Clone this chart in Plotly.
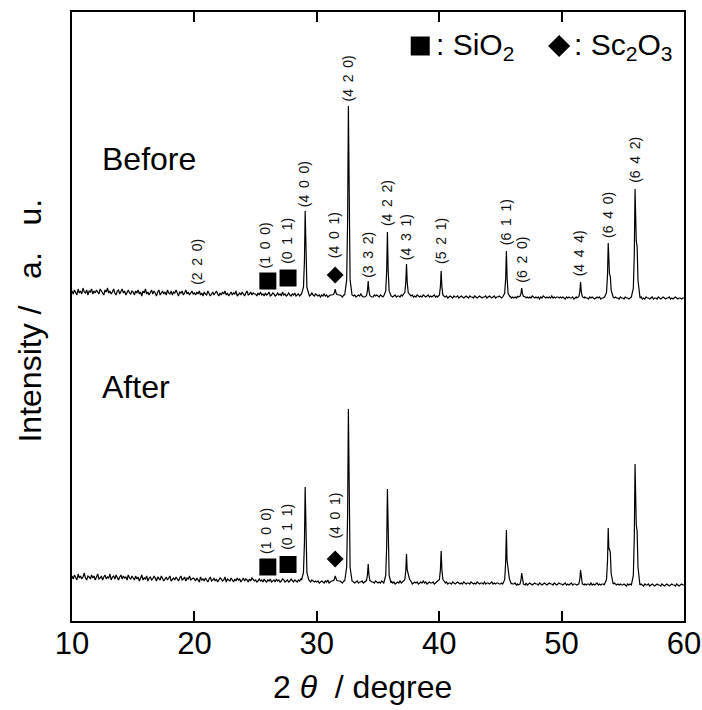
import numpy as np
import plotly.graph_objects as go

# ---------------- data ----------------
two_theta_start = 10.0
two_theta_step = 0.1

before_background = [
    44, 41, 45, 43, 40, 46, 42, 44, 41, 47, 43, 42, 45, 40, 44, 43, 46, 41, 44, 42,
    45, 43, 41, 46, 44, 42, 40, 45, 43, 47, 42, 44, 41, 43, 46, 42, 40, 44, 45, 41,
    43, 46, 42, 44, 40, 43, 45, 42, 41, 44,
    43, 40, 44, 42, 45, 41, 43, 39, 44, 42, 46, 41, 43, 40, 42, 45, 41, 44, 42, 39,
    43, 45, 40, 42, 44, 41, 43, 40, 45, 42, 41, 44, 40, 43, 42, 45, 41, 39, 43, 42,
    44, 40, 42, 45, 41, 43, 40, 42, 44, 41,
    42, 40, 43, 41, 44, 40, 42, 39, 43, 41, 40, 44, 42, 39, 41, 43, 40, 42, 44, 41,
    39, 42, 40, 43, 41, 44, 40, 42, 39, 41, 43, 40, 42, 41, 44, 39, 41, 42, 40, 43,
    41, 39, 42, 44, 40, 41, 43, 40, 42, 41,
    41, 39, 42, 40, 43, 40, 41, 39, 42, 40, 41, 43, 39, 40, 42, 41, 39, 40, 42, 40,
    41, 39, 43, 40, 41, 39, 40, 42, 40, 39, 41, 40, 42, 39, 40, 41, 39, 40, 42, 40,
    41, 39, 40, 41, 39, 40, 42, 40, 39, 41,
    40, 39, 40, 38, 40, 39, 41, 39, 40, 38, 39, 40, 39, 41, 39, 40, 38, 40, 39, 40,
    39, 38, 40, 39, 41, 39, 40, 39, 38, 40, 39, 40, 38, 39, 40, 39, 41, 39, 38, 40,
    39, 40, 38, 39, 40, 39, 38, 40, 39, 40,
    39, 38, 40, 39, 38, 39, 40, 38, 39, 38, 40, 39, 38, 39, 40, 38, 39, 39, 38, 40,
    39, 38, 39, 40, 38, 39, 38, 39, 40, 38, 39, 38, 40, 39, 38, 39, 38, 40, 39, 38,
    39, 40, 38, 39, 38, 39, 40, 38, 39, 38,
    38, 39, 38, 37, 39, 38, 39, 37, 38, 39, 38, 37, 39, 38, 38, 39, 37, 38, 39, 38,
    37, 38, 39, 38, 37, 39, 38, 38, 37, 39, 38, 37, 38, 39, 38, 37, 38, 38, 39, 37,
    38, 39, 38, 37, 38, 39, 37, 38, 38, 39,
    38, 37, 38, 39, 37, 38, 37, 38, 39, 37, 38, 37, 38, 37, 39, 38, 37, 38, 37, 38,
    39, 37, 38, 37, 38, 37, 39, 38, 37, 38, 37, 38, 36, 38, 37, 39, 38, 37, 38, 37,
    38, 37, 39, 37, 38, 37, 38, 38, 37, 38,
    37, 38, 37, 36, 38, 37, 38, 37, 37, 38, 36, 37, 38, 37, 38, 37, 36, 38, 37, 38,
    37, 37, 36, 38, 37, 38, 37, 36, 37, 38, 37, 38, 36, 37, 37, 38, 37, 36, 38, 37,
    37, 38, 36, 37, 38, 37, 37, 36, 38, 37,
    37, 36, 38, 37, 37, 36, 37, 38, 36, 37, 38, 37, 36, 37, 37, 38, 36, 37, 36, 38,
    37, 37, 36, 37, 38, 36, 37, 37, 36, 38, 37, 36, 37, 38, 37, 36, 37, 37, 38, 36,
    37, 36, 37, 38, 37, 36, 37, 37, 36, 37,
    37,
]

after_background = [
    45, 42, 46, 44, 41, 47, 43, 45, 42, 44, 48, 43, 41, 45, 44, 42, 46, 43, 45, 41,
    44, 47, 42, 43, 45, 41, 44, 46, 42, 44, 43, 47, 41, 44, 45, 42, 46, 43, 41, 44,
    46, 42, 45, 43, 44, 41, 46, 43, 42, 45,
    43, 41, 45, 42, 44, 40, 43, 46, 41, 43, 42, 45, 40, 43, 44, 41, 42, 45, 43, 40,
    44, 42, 41, 45, 43, 40, 42, 44, 41, 43, 45, 40, 42, 43, 41, 44, 42, 40, 43, 45,
    41, 42, 44, 40, 43, 42, 45, 41, 42, 43,
    42, 40, 43, 41, 39, 44, 41, 42, 40, 43, 41, 39, 42, 44, 40, 41, 43, 40, 42, 39,
    41, 43, 42, 40, 41, 44, 39, 42, 41, 40, 43, 41, 39, 42, 40, 43, 41, 42, 39, 41,
    43, 40, 42, 41, 39, 42, 40, 43, 41, 40,
    41, 39, 40, 42, 40, 41, 39, 42, 40, 39, 41, 40, 42, 39, 40, 41, 39, 42, 40, 41,
    39, 40, 42, 41, 39, 40, 41, 39, 40, 42, 40, 39, 41, 40, 39, 41, 40, 42, 39, 40,
    41, 39, 40, 41, 40, 39, 41, 40, 39, 40,
    39, 40, 38, 39, 40, 39, 38, 40, 39, 41, 38, 39, 40, 39, 38, 40, 39, 39, 38, 40,
    39, 38, 40, 39, 38, 39, 40, 38, 39, 40, 39, 38, 39, 40, 38, 39, 39, 40, 38, 39,
    40, 38, 39, 39, 40, 38, 39, 38, 40, 39,
    38, 39, 38, 40, 38, 39, 37, 39, 38, 39, 38, 40, 38, 39, 37, 38, 39, 38, 40, 38,
    39, 38, 37, 39, 38, 39, 38, 39, 37, 38, 39, 38, 39, 37, 38, 39, 38, 40, 38, 39,
    37, 38, 39, 38, 38, 39, 37, 38, 39, 38,
    38, 37, 39, 38, 37, 38, 39, 37, 38, 38, 37, 39, 38, 37, 38, 39, 38, 37, 38, 37,
    39, 38, 37, 38, 38, 37, 39, 38, 37, 38, 37, 39, 38, 37, 38, 38, 37, 39, 37, 38,
    38, 37, 38, 39, 37, 38, 37, 38, 38, 37,
    37, 38, 37, 36, 38, 37, 38, 37, 36, 38, 37, 37, 38, 36, 37, 38, 37, 36, 38, 37,
    37, 38, 36, 37, 38, 37, 36, 37, 38, 37, 37, 36, 38, 37, 36, 37, 38, 37, 36, 37,
    38, 37, 37, 36, 38, 37, 36, 37, 38, 37,
    37, 36, 37, 38, 36, 37, 36, 37, 38, 36, 37, 37, 36, 38, 37, 36, 37, 36, 38, 37,
    36, 37, 37, 36, 38, 36, 37, 36, 37, 38, 36, 37, 36, 37, 37, 36, 38, 36, 37, 36,
    37, 37, 36, 38, 37, 36, 37, 36, 37, 36,
    36, 37, 36, 35, 37, 36, 37, 36, 35, 37, 36, 36, 37, 35, 36, 37, 36, 35, 37, 36,
    36, 37, 35, 36, 37, 36, 35, 36, 37, 36, 36, 35, 37, 36, 35, 36, 37, 36, 35, 36,
    37, 36, 36, 35, 37, 36, 35, 36, 37, 36,
    36,
]

# peaks: (400) (401) (420) (332) (422) (431) (521) (611) (620) (444) (640) (642)
peak_positions = [29.05, 31.5, 32.58, 34.2, 35.77, 37.33, 40.16, 45.49, 46.74, 51.55, 53.81, 56.0]
before_heights = [83, 6, 189, 16, 64, 31, 26, 46, 9, 16, 54, 108]
before_shoulders = [0, 0, 0, 0, 0, 0, 0, 0, 0, 0, 23, 56]
after_heights = [93, 5, 172, 18, 94, 28, 31, 54, 12, 15, 56, 121]
after_shoulders = [0, 0, 0, 0, 0, 10, 0, 18, 0, 0, 35, 60]

before_offset = 286

before_label_text = ["(2 2 0)", "(1 0 0)", "(0 1 1)", "(4 0 0)", "(4 0 1)", "(4 2 0)", "(3 3 2)",
                     "(4 2 2)", "(4 3 1)", "(5 2 1)", "(6 1 1)", "(6 2 0)", "(4 4 4)", "(6 4 0)", "(6 4 2)"]
before_label_x = [20.2, 25.8, 27.55, 28.97, 31.42, 32.58, 34.17, 35.74, 37.3, 40.14, 45.47, 46.74, 51.45, 53.79, 55.98]
before_label_y = [359, 376, 380, 437, 386, 543, 366, 418, 384, 380, 399, 361, 368, 406, 461]

after_label_text = ["(1 0 0)", "(0 1 1)", "(4 0 1)"]
after_label_x = [25.85, 27.55, 31.45]
after_label_y = [90, 94, 105]

sio2_before_x = [26.0, 27.65]
sio2_before_y = [340, 343]
sc2o3_before_x = [31.5]
sc2o3_before_y = [346]
sio2_after_x = [26.0, 27.65]
sio2_after_y = [54, 56.5]
sc2o3_after_x = [31.5]
sc2o3_after_y = [62]

legend_names = ["SiO<sub>2</sub>", "Sc<sub>2</sub>O<sub>3</sub>"]
legend_symbol_x = [38.45, 49.8]
legend_text_x = [39.55, 50.85]
legend_y = 575

# ---------------- build traces ----------------
LEFT = [(-0.3, 0.0), (-0.14, 0.08), (-0.06, 0.4), (0.0, 1.0)]
RIGHT = [(0.06, 0.4), (0.14, 0.08), (0.3, 0.0)]


def build_pattern(background, heights, shoulders):
    grid = two_theta_start + two_theta_step * np.arange(len(background))
    bg = np.array(background, dtype=float)
    keep = np.ones(len(grid), dtype=bool)
    px, py = [], []
    for p, h, s in zip(peak_positions, heights, shoulders):
        idx = int(round((p - two_theta_start) / two_theta_step))
        base = bg[idx]
        if s > 0:
            right = [(0.05, max(0.45 * h, s) / h), (0.1, s / h), (0.17, 0.9 * s / h),
                     (0.24, 0.3 * s / h), (0.4, 0.0)]
        else:
            right = RIGHT
        pts = LEFT + right
        lo, hi = p + pts[0][0], p + pts[-1][0]
        keep &= ~((grid >= lo) & (grid <= hi))
        for dx, f in pts:
            px.append(p + dx)
            py.append(base + f * h)
    xs = np.concatenate([grid[keep], np.array(px)])
    ys = np.concatenate([bg[keep], np.array(py)])
    order = np.argsort(xs, kind="stable")
    return xs[order], ys[order]


bx, by = build_pattern(before_background, before_heights, before_shoulders)
ax, ay = build_pattern(after_background, after_heights, after_shoulders)

FONT = "Arial, Liberation Sans, sans-serif"
fig = go.Figure()
fig.add_trace(go.Scatter(x=bx, y=by + before_offset, mode="lines",
                         line=dict(color="black", width=1.2), showlegend=False, hoverinfo="skip"))
fig.add_trace(go.Scatter(x=ax, y=ay, mode="lines",
                         line=dict(color="black", width=1.2), showlegend=False, hoverinfo="skip"))

fig.add_trace(go.Scatter(x=sio2_before_x + sio2_after_x, y=sio2_before_y + sio2_after_y, mode="markers",
                         marker=dict(symbol="square", size=17, color="black"), showlegend=False))
fig.add_trace(go.Scatter(x=sc2o3_before_x + sc2o3_after_x, y=sc2o3_before_y + sc2o3_after_y, mode="markers",
                         marker=dict(symbol="diamond", size=13, color="black"), showlegend=False))
# legend symbols
fig.add_trace(go.Scatter(x=[legend_symbol_x[0]], y=[legend_y], mode="markers",
                         marker=dict(symbol="square", size=19, color="black"), showlegend=False))
fig.add_trace(go.Scatter(x=[legend_symbol_x[1]], y=[legend_y], mode="markers",
                         marker=dict(symbol="diamond", size=17, color="black"), showlegend=False))


def spaced(t):
    return t.replace(" ", "\u00a0\u2009")


annotations = []
for t, x, y in zip(before_label_text + after_label_text, before_label_x + after_label_x,
                   before_label_y + after_label_y):
    annotations.append(dict(x=x, y=y, xref="x", yref="y", text=spaced(t), showarrow=False,
                            textangle=-90, xanchor="center", yanchor="middle",
                            font=dict(family=FONT, size=14, color="#111111")))

for name, x in zip(legend_names, legend_text_x):
    annotations.append(dict(x=x, y=legend_y, xref="x", yref="y", text=":\u00a0" + name, showarrow=False,
                            xanchor="left", yanchor="middle", font=dict(family=FONT, size=30, color="black")))

annotations.append(dict(x=12.25, y=462, xref="x", yref="y", text="Before", showarrow=False,
                        xanchor="left", yanchor="middle", font=dict(family=FONT, size=32, color="black")))
annotations.append(dict(x=12.25, y=234, xref="x", yref="y", text="After", showarrow=False,
                        xanchor="left", yanchor="middle", font=dict(family=FONT, size=32, color="black")))
annotations.append(dict(x=0.325, y=-0.108, xref="paper", yref="paper", xanchor="left", yanchor="middle",
                        text="2\u00a0<i>θ</i>\u00a0\u00a0/\u00a0degree", showarrow=False,
                        font=dict(family=FONT, size=32, color="black")))
annotations.append(dict(x=-0.068, y=0.494, xref="paper", yref="paper", xanchor="center", yanchor="middle",
                        text="Intensity\u00a0/\u00a0\u00a0\u00a0a.\u00a0\u00a0\u00a0u.", textangle=-90,
                        showarrow=False, font=dict(family=FONT, size=32, color="black")))

fig.update_layout(
    width=702, height=710,
    margin=dict(l=72, r=18, t=12, b=89),
    paper_bgcolor="white", plot_bgcolor="white",
    annotations=annotations,
    showlegend=False,
)
fig.update_xaxes(range=[10, 60], tickvals=[10, 20, 30, 40, 50, 60], ticks="inside", ticklen=10,
                 tickwidth=2, tickcolor="black", showline=True, linewidth=2, linecolor="black",
                 mirror="ticks", showgrid=False, zeroline=False, automargin=False,
                 ticklabelstandoff=-6,
                 tickfont=dict(family=FONT, size=31, color="black"))
fig.update_yaxes(range=[0, 609], showticklabels=False, ticks="", showline=True, linewidth=2,
                 linecolor="black", mirror=True, showgrid=False, zeroline=False, automargin=False)

fig.write_html("out.html")
